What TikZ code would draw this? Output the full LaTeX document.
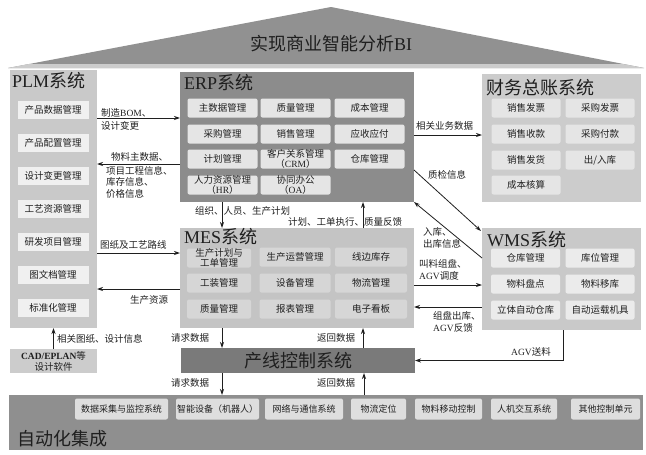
\documentclass[tikz,border=0pt]{standalone}
\usepackage{fontspec}
\setmainfont{Noto Sans CJK SC}
\newfontfamily\lat{Liberation Serif}
\usetikzlibrary{arrows.meta}
\definecolor{roofc}{gray}{0.57}
\definecolor{roofband}{gray}{0.80}
\definecolor{plmc}{gray}{0.79}
\definecolor{plmitem}{gray}{0.94}
\definecolor{erpc}{gray}{0.55}
\definecolor{erpitem}{gray}{0.90}
\definecolor{finc}{gray}{0.80}
\definecolor{finitem}{gray}{0.90}
\definecolor{mesc}{gray}{0.77}
\definecolor{mesitem}{gray}{0.84}
\definecolor{wmsc}{gray}{0.79}
\definecolor{wmsitem}{gray}{0.92}
\definecolor{plcc}{gray}{0.48}
\definecolor{botc}{gray}{0.56}
\definecolor{botitem}{gray}{0.87}
\definecolor{cadc}{gray}{0.80}
\definecolor{ink}{gray}{0.12}
\begin{document}
\begin{tikzpicture}[x=1pt,y=-1pt,
  panel/.style={inner sep=0pt,outer sep=0pt,anchor=north west},
  item/.style={rounded corners=2pt,inner sep=0pt,outer sep=0pt,minimum height=19pt,
    align=center,text=ink,font=\fontsize{9.5}{9.5}\selectfont},
  hdr/.style={anchor=west,inner sep=0pt,text=ink,font=\fontsize{18}{18}\selectfont},
  lbl/.style={inner sep=0pt,text=ink,align=left,font=\fontsize{9.5}{11.5}\selectfont},
  arr/.style={-{Stealth[length=6pt,width=4pt]},line width=0.8pt,draw=ink}]
\useasboundingbox (0,0) rectangle (646,455);
% roof
\fill[roofc] (8,68) -- (331,7) -- (644,68) -- cycle;
\fill[roofband] (8,68) -- (29,64) -- (623,64) -- (644,68) -- cycle;
\node[text=ink,font=\fontsize{18}{18}\selectfont] (title) at (331,44) {实现商业智能分析{\lat BI}};
% PLM
\node[panel,fill=plmc,minimum width=87pt,minimum height=258pt] (plm) at (10,70) {};
\node[hdr] (plmh) at (12,81) {{\lat PLM}系统};
\foreach \t [count=\i] in {产品数据管理,产品配置管理,设计变更管理,工艺资源管理,研发项目管理,图文档管理,标准化管理}
  \node[item,fill=plmitem,rounded corners=0pt,minimum width=71pt,minimum height=18pt] (p\i) at (53,77+33*\i) {\t};
\node[panel,fill=cadc,minimum width=87pt,minimum height=24pt] (cad) at (10,349) {};
\node[align=center,inner sep=0pt,text=ink,font=\fontsize{9.5}{11}\selectfont] (cadt) at (cad.center) {{\lat\bfseries CAD/EPLAN}等\\设计软件};
% ERP
\node[panel,fill=erpc,minimum width=234pt,minimum height=130pt] (erp) at (180,72) {};
\node[hdr] (erph) at (184,83) {{\lat ERP}系统};
\node[item,fill=erpitem,minimum width=70pt] (e1) at (222.5,108) {主数据管理};
\node[item,fill=erpitem,minimum width=70pt] (e2) at (295.5,108) {质量管理};
\node[item,fill=erpitem,minimum width=70pt] (e3) at (369.5,108) {成本管理};
\node[item,fill=erpitem,minimum width=70pt] (e4) at (222.5,134) {采购管理};
\node[item,fill=erpitem,minimum width=70pt] (e5) at (295.5,134) {销售管理};
\node[item,fill=erpitem,minimum width=70pt] (e6) at (369.5,134) {应收应付};
\node[item,fill=erpitem,minimum width=70pt] (e7) at (222.5,159) {计划管理};
\node[item,fill=erpitem,minimum width=70pt] (e8) at (295.5,159) {客户关系管理\\（{\lat CRM}）};
\node[item,fill=erpitem,minimum width=70pt] (e9) at (369.5,159) {仓库管理};
\node[item,fill=erpitem,minimum width=70pt] (e10) at (222.5,185) {人力资源管理\\（{\lat HR}）};
\node[item,fill=erpitem,minimum width=70pt] (e11) at (295.5,185) {协同办公\\（{\lat OA}）};
% Finance
\node[panel,fill=finc,minimum width=159pt,minimum height=128pt] (fin) at (482,74) {};
\node[hdr] (finh) at (486,88) {财务总账系统};
\node[item,fill=finitem,minimum width=69pt] (f1) at (526,108) {销售发票};
\node[item,fill=finitem,minimum width=69pt] (f2) at (600,108) {采购发票};
\node[item,fill=finitem,minimum width=69pt] (f3) at (526,134) {销售收款};
\node[item,fill=finitem,minimum width=69pt] (f4) at (600,134) {采购付款};
\node[item,fill=finitem,minimum width=69pt] (f5) at (526,160) {销售发货};
\node[item,fill=finitem,minimum width=69pt] (f6) at (600,160) {出/入库};
\node[item,fill=finitem,minimum width=69pt] (f7) at (526,185) {成本核算};
% MES
\node[panel,fill=mesc,minimum width=234pt,minimum height=100pt] (mes) at (180,228) {};
\node[hdr] (mesh) at (184,236.5) {{\lat MES}系统};
\node[item,fill=mesitem,minimum width=64pt] (m1) at (219,258) {生产计划与\\工单管理};
\node[item,fill=mesitem,minimum width=71pt] (m2) at (295,257) {生产运营管理};
\node[item,fill=mesitem,minimum width=72pt] (m3) at (371,257) {线边库存};
\node[item,fill=mesitem,minimum width=64pt] (m4) at (219,283) {工装管理};
\node[item,fill=mesitem,minimum width=71pt] (m5) at (295,283) {设备管理};
\node[item,fill=mesitem,minimum width=72pt] (m6) at (371,283) {物流管理};
\node[item,fill=mesitem,minimum width=64pt] (m7) at (219,309) {质量管理};
\node[item,fill=mesitem,minimum width=71pt] (m8) at (295,309) {报表管理};
\node[item,fill=mesitem,minimum width=72pt] (m9) at (371,309) {电子看板};
% WMS
\node[panel,fill=wmsc,minimum width=159pt,minimum height=102pt] (wms) at (482,228) {};
\node[hdr] (wmsh) at (487,240) {{\lat WMS}系统};
\node[item,fill=wmsitem,minimum width=69pt] (w1) at (525.5,258) {仓库管理};
\node[item,fill=wmsitem,minimum width=69pt] (w2) at (600,258) {库位管理};
\node[item,fill=wmsitem,minimum width=69pt] (w3) at (525.5,284) {物料盘点};
\node[item,fill=wmsitem,minimum width=69pt] (w4) at (600,284) {物料移库};
\node[item,fill=wmsitem,minimum width=69pt] (w5) at (525.5,310) {立体自动仓库};
\node[item,fill=wmsitem,minimum width=69pt] (w6) at (600,310) {自动运载机具};
% production line control
\node[panel,fill=plcc,minimum width=234pt,minimum height=25pt] (plc) at (181,348) {};
\node[text=ink,inner sep=0pt,font=\fontsize{18}{18}\selectfont] (plct) at (plc.center) {产线控制系统};
% bottom band
\node[panel,fill=botc,minimum width=634pt,minimum height=55pt] (bot) at (9,395) {};
\node[hdr] (both) at (17,439) {自动化集成};
\tikzset{bitem/.style={item,fill=botitem,minimum height=21pt,font=\fontsize{9}{9}\selectfont}}
\node[bitem,minimum width=93pt] (b1) at (121.5,409) {数据采集与监控系统};
\node[bitem,minimum width=83pt] (b2) at (217.5,409) {智能设备（机器人）};
\node[bitem,minimum width=78pt] (b3) at (304,409) {网络与通信系统};
\node[bitem,minimum width=55pt] (b4) at (378.5,409) {物流定位};
\node[bitem,minimum width=67pt] (b5) at (448.5,409) {物料移动控制};
\node[bitem,minimum width=66pt] (b6) at (524,409) {人机交互系统};
\node[bitem,minimum width=69pt] (b7) at (605.5,409) {其他控制单元};
% connectors PLM
\draw[arr] (plm.east |- 0,118) -- (erp.west |- 0,118);
\node[lbl,anchor=west] (l1) at (101,119) {制造{\lat BOM}、\\[1.5pt]设计变更};
\draw[arr] (erp.west |- 0,164) -- (plm.east |- 0,164);
\node[lbl,anchor=west] (l2a) at (111,157) {物料主数据、};
\node[lbl,anchor=north west] (l2b) at (106,166) {项目工程信息、\\库存信息、\\价格信息};
\draw[arr] (plm.east |- 0,253) -- (mes.west |- 0,253);
\node[lbl,anchor=west] (l3) at (100,245) {图纸及工艺路线};
\draw[arr] (mes.west |- 0,289) -- (plm.east |- 0,289);
\node[lbl,anchor=west] (l4) at (130,300) {生产资源};
\draw[arr] (cad.north) -- (plm.south);
\node[lbl,anchor=west] (l5) at (57,339) {相关图纸、设计信息};
% ERP <-> MES
\draw[arr] (erp.south -| 222,0) -- (mes.north -| 222,0);
\node[lbl,anchor=west] (l6) at (195,211) {组织、人员、生产计划};
\draw[arr] (mes.north -| 363,0) -- (erp.south -| 363,0);
\node[lbl,anchor=west] (l7) at (288,222) {计划、工单执行、质量反馈};
% ERP -> finance
\draw[arr] (erp.east |- 0,135) -- (fin.west |- 0,135);
\node[lbl,anchor=west] (l8) at (416,126) {相关业务数据};
% ERP <-> WMS
\draw[arr] (erp.east |- 0,170) -- ([xshift=-1pt,yshift=-3pt]wms.north west);
\node[lbl,anchor=west] (l9) at (428,175) {质检信息};
\draw[arr] (wms.west |- 0,258) -- (erp.south east);
\node[lbl,anchor=west] (l10) at (423,238) {入库、\\出库信息};
% MES <-> WMS
\draw[arr] (mes.east |- 0,285) -- (wms.west |- 0,285);
\node[lbl,anchor=west] (l11) at (419,270) {叫料组盘、\\{\lat AGV}调度};
\draw[arr] (wms.west |- 0,307) -- (mes.east |- 0,307);
\node[lbl,anchor=west] (l12) at (433,322) {组盘出库、\\{\lat AGV}反馈};
% WMS -> PLC
\draw[arr] (wms.south -| 563,0) |- (plc.east);
\node[lbl] (l13) at (531,352) {{\lat AGV}送料};
% MES <-> PLC
\draw[arr] (mes.south -| 222,0) -- (plc.north -| 222,0);
\node[lbl] (l14) at (190,338) {请求数据};
\draw[arr] (plc.north -| 363,0) -- (mes.south -| 363,0);
\node[lbl] (l15) at (336,338) {返回数据};
% PLC <-> bottom
\draw[arr] (plc.south -| 222,0) -- (bot.north -| 222,0);
\node[lbl] (l16) at (190,383) {请求数据};
\draw[arr] (bot.north -| 364,0) -- (plc.south -| 364,0);
\node[lbl] (l17) at (336,383) {返回数据};
\end{tikzpicture}
\end{document}
